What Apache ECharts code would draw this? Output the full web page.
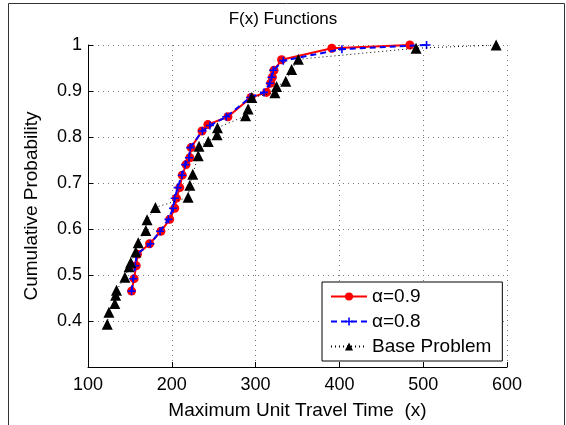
<!DOCTYPE html>
<html>
<head>
<meta charset="utf-8">
<script src="https://cdn.jsdelivr.net/npm/echarts@6/dist/echarts.min.js"></script>
<style>
html,body{margin:0;padding:0;background:#fff;}
#c{width:566px;height:425px;}
</style>
</head>
<body>
<div id="c"></div>
<script>
// ---- data ----
const xTicks = [100, 200, 300, 400, 500, 600];
const yTicks = [0.3, 0.4, 0.5, 0.6, 0.7, 0.8, 0.9, 1.0];

const a09X = [152, 155, 157.5, 159, 173.5, 187, 197.5, 203.5, 205.5, 209.5, 212.5, 217, 221.5, 223, 236, 243, 267, 294.5, 313, 318, 320, 322, 331, 391, 484];
const a09Y = [0.465, 0.492, 0.52, 0.545, 0.568, 0.595, 0.621, 0.645, 0.667, 0.69, 0.717, 0.74, 0.755, 0.777, 0.813, 0.827, 0.844, 0.886, 0.897, 0.917, 0.93, 0.945, 0.968, 0.993, 1.0];

const a08X = [152, 154, 156.5, 158, 174.5, 186, 196, 201.5, 203.5, 207, 212, 216, 220.5, 222, 236.5, 245.5, 265, 293.5, 310, 317, 319, 321, 333, 403, 504];
const a08Y = [0.465, 0.492, 0.52, 0.545, 0.568, 0.595, 0.621, 0.645, 0.667, 0.69, 0.717, 0.74, 0.755, 0.777, 0.813, 0.825, 0.844, 0.886, 0.897, 0.917, 0.93, 0.945, 0.966, 0.991, 1.0];

const baseX = [123, 125, 132, 133, 134, 144, 149, 151, 157, 160, 169, 170.5, 180.5, 219.5, 221.5, 225, 231.5, 232.5, 243.5, 254, 254.5, 288, 291, 295.5, 323, 325, 336, 343, 351, 491.5, 587];
const baseY = [0.393, 0.419, 0.438, 0.456, 0.467, 0.495, 0.518, 0.527, 0.55, 0.57, 0.597, 0.62, 0.647, 0.669, 0.695, 0.719, 0.759, 0.78, 0.79, 0.805, 0.82, 0.846, 0.861, 0.886, 0.896, 0.91, 0.921, 0.947, 0.969, 0.993, 1.0];

const seriesNames = ['\u03b1=0.9', '\u03b1=0.8', 'Base Problem'];
const titleText = 'F(x) Functions';
const xName = 'Maximum Unit Travel Time  (x)';
const yName = 'Cumulative Probability';

// ---- chart ----
const zip = (xs, ys) => xs.map((x, i) => [x, ys[i]]);
const FONT = '"Liberation Sans", Arial, Helvetica, sans-serif';
const FS = 19;
const TFS = 18;
const plusPath = 'path://M4,0H6V4H10V6H6V10H4V6H0V4H4Z';

const chart = echarts.init(document.getElementById('c'), null, {renderer: 'canvas'});
chart.setOption({
  animation: false,
  backgroundColor: '#fff',
  textStyle: {fontFamily: FONT},
  title: {
    text: titleText,
    left: 283,
    top: 11,
    textAlign: 'center',
    padding: 0,
    textStyle: {fontFamily: FONT, fontSize: 17, fontWeight: 'normal', color: '#000'}
  },
  graphic: [{
    type: 'rect',
    shape: {x: 8.5, y: 3.5, width: 556, height: 440},
    style: {fill: 'none', stroke: '#333', lineWidth: 1},
    silent: true,
    z: -1
  }],
  grid: {left: 88, right: 59, top: 45, bottom: 56, containLabel: false},
  xAxis: {
    type: 'value',
    min: xTicks[0],
    max: xTicks[xTicks.length - 1],
    interval: 100,
    name: xName,
    nameLocation: 'middle',
    nameGap: 34,
    nameTextStyle: {fontFamily: FONT, fontSize: FS, color: '#000'},
    axisLine: {show: true, onZero: false, lineStyle: {color: '#000', width: 1}},
    axisTick: {show: true, inside: true, length: 5, lineStyle: {color: '#000'}},
    axisLabel: {fontFamily: FONT, fontSize: TFS, color: '#000', margin: 9},
    splitLine: {show: true, lineStyle: {color: '#777', type: [1, 4], width: 1}}
  },
  yAxis: {
    type: 'value',
    min: yTicks[0],
    max: yTicks[yTicks.length - 1],
    interval: 0.1,
    name: yName,
    nameLocation: 'middle',
    nameGap: 47,
    nameRotate: 90,
    nameTextStyle: {fontFamily: FONT, fontSize: FS, color: '#000'},
    axisLine: {show: true, onZero: false, lineStyle: {color: '#000', width: 1}},
    axisTick: {show: true, inside: true, length: 5, lineStyle: {color: '#000'}},
    axisLabel: {
      fontFamily: FONT, fontSize: TFS, color: '#000', margin: 6,
      formatter: v => (v < 0.35 ? '' : String(+v.toFixed(1)))
    },
    splitLine: {show: true, lineStyle: {color: '#777', type: [1, 4], width: 1}}
  },
  legend: {
    orient: 'vertical',
    left: 322,
    top: 282,
    padding: [5, 11, 5, 8],
    itemGap: 6,
    itemWidth: 36,
    itemHeight: 10,
    backgroundColor: '#fff',
    borderColor: '#000',
    borderWidth: 1,
    textStyle: {fontFamily: FONT, fontSize: FS, color: '#000'},
    data: seriesNames
  },
  series: [
    {
      name: seriesNames[0],
      type: 'line',
      data: zip(a09X, a09Y),
      symbol: 'circle',
      symbolSize: 9,
      itemStyle: {color: '#ff0000'},
      lineStyle: {color: '#ff0000', width: 2},
      z: 2
    },
    {
      name: seriesNames[1],
      type: 'line',
      data: zip(a08X, a08Y),
      symbol: plusPath,
      symbolSize: 8,
      itemStyle: {color: '#0000ff'},
      lineStyle: {color: '#0000ff', width: 2, type: [6, 4]},
      z: 3
    },
    {
      name: seriesNames[2],
      type: 'line',
      data: zip(baseX, baseY),
      symbol: 'triangle',
      symbolSize: 11,
      itemStyle: {color: '#000'},
      lineStyle: {color: '#000', width: 1, type: [1, 3]},
      z: 4
    }
  ]
});
</script>
</body>
</html>
